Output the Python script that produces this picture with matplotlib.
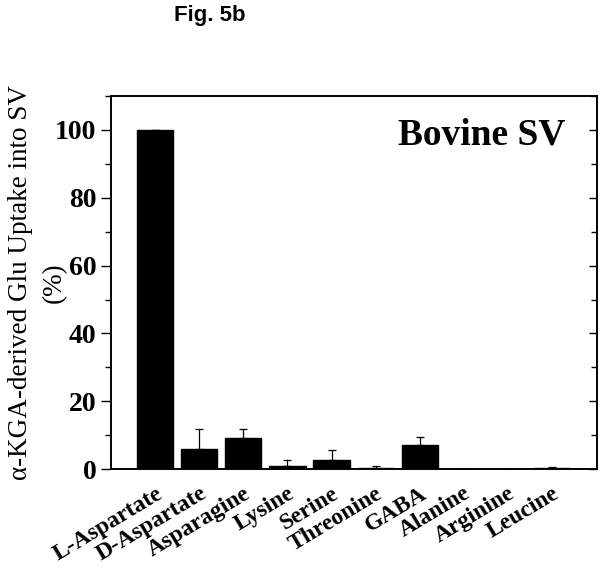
import numpy as np
import matplotlib.pyplot as plt
from matplotlib.ticker import MultipleLocator
import matplotlib.transforms as mtransforms

# ---- data ----
amino_acids = ["L-Aspartate", "D-Aspartate", "Asparagine", "Lysine", "Serine",
               "Threonine", "GABA", "Alanine", "Arginine", "Leucine"]
uptake = [100.0, 5.8, 9.2, 1.0, 2.8, 0.4, 7.0, 0.0, 0.0, 0.3]
uptake_err = [0.0, 6.1, 2.5, 1.6, 2.9, 0.6, 2.4, 0.0, 0.0, 0.2]

serif = ["Liberation Serif", "DejaVu Serif"]

fig = plt.figure(figsize=(6.01, 5.68), dpi=100)
ax = fig.add_axes([0.185, 0.174, 0.808, 0.657])

x = np.arange(len(amino_acids))
ax.bar(x, uptake, width=0.82, color="black", edgecolor="black", zorder=2)
# upward-only error bars
ax.errorbar(x, uptake, yerr=[np.zeros(len(x)), uptake_err], fmt="none",
            ecolor="black", elinewidth=0.9, capsize=3, capthick=0.9, zorder=1)

ax.set_xlim(-1.0, 10.02)
ax.set_ylim(0, 110)
ax.yaxis.set_major_locator(MultipleLocator(20))
ax.yaxis.set_minor_locator(MultipleLocator(10))
ax.tick_params(axis="y", which="major", direction="out", length=7, width=1)
ax.tick_params(axis="y", which="minor", direction="out", length=4, width=1)
# mirrored ticks on the right point inward
ax2 = ax.twinx()
ax2.set_ylim(ax.get_ylim())
ax2.yaxis.set_major_locator(MultipleLocator(20))
ax2.yaxis.set_minor_locator(MultipleLocator(10))
ax2.tick_params(axis="y", which="major", direction="in", length=6, width=1,
                labelright=False)
ax2.tick_params(axis="y", which="minor", direction="in", length=4, width=1)
for a in (ax, ax2):
    for s in a.spines.values():
        s.set_linewidth(1.2)

ax.set_xticks(x)
ax.tick_params(axis="x", length=0, pad=0)
ax.set_xticklabels(amino_acids, rotation=31, ha="right", va="top",
                   rotation_mode="anchor", fontfamily=serif,
                   fontweight="bold", fontsize=17)
offset = mtransforms.ScaledTranslation(0 / 72, -10 / 72, fig.dpi_scale_trans)
for lab in ax.get_xticklabels():
    lab.set_transform(lab.get_transform() + offset)

for lab in ax.get_yticklabels():
    lab.set_fontfamily(serif)
    lab.set_fontweight("bold")
    lab.set_fontsize(20)

ax.set_ylabel("\u03b1-KGA-derived Glu Uptake into SV\n(%)", fontfamily=serif,
              fontsize=19.5, linespacing=1.45)
ax.yaxis.set_label_coords(-0.092, 0.5)

ax.text(0.935, 0.87, "Bovine SV", transform=ax.transAxes, ha="right",
        va="baseline", fontfamily=serif, fontweight="bold", fontsize=27)

fig.text(0.29, 0.973, "Fig. 5b", ha="left", va="center",
         fontfamily=["Liberation Sans", "DejaVu Sans"], fontweight="bold",
         fontsize=16)

fig.savefig("out.png", dpi=100)
